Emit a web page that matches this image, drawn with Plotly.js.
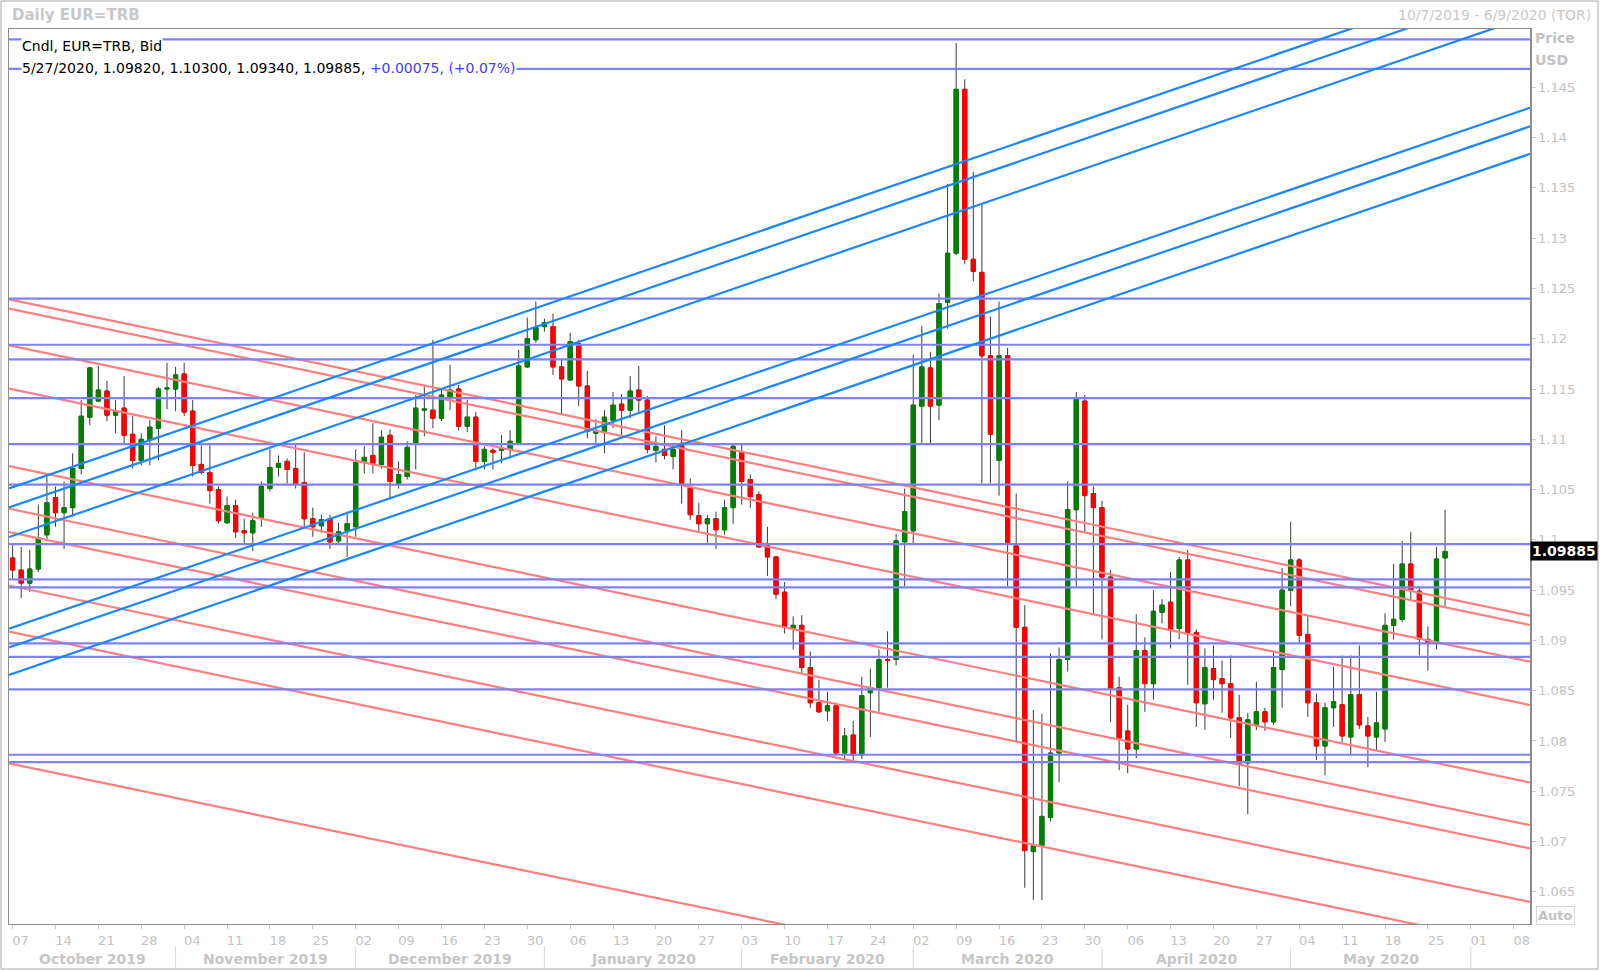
<!DOCTYPE html>
<html><head><meta charset="utf-8">
<script src="https://cdn.plot.ly/plotly-3.0.1.min.js"></script>
<style>html,body{margin:0;padding:0;background:#fff;}#chart{width:1600px;height:972px;}</style>
</head><body><div id="chart"></div>
<script>
// ---------------- DATA ----------------
const dates = [
"2019-10-07","2019-10-08","2019-10-09","2019-10-10","2019-10-11",
"2019-10-14","2019-10-15","2019-10-16","2019-10-17","2019-10-18",
"2019-10-21","2019-10-22","2019-10-23","2019-10-24","2019-10-25",
"2019-10-28","2019-10-29","2019-10-30","2019-10-31","2019-11-01",
"2019-11-04","2019-11-05","2019-11-06","2019-11-07","2019-11-08",
"2019-11-11","2019-11-12","2019-11-13","2019-11-14","2019-11-15",
"2019-11-18","2019-11-19","2019-11-20","2019-11-21","2019-11-22",
"2019-11-25","2019-11-26","2019-11-27","2019-11-28","2019-11-29",
"2019-12-02","2019-12-03","2019-12-04","2019-12-05","2019-12-06",
"2019-12-09","2019-12-10","2019-12-11","2019-12-12","2019-12-13",
"2019-12-16","2019-12-17","2019-12-18","2019-12-19","2019-12-20",
"2019-12-23","2019-12-24","2019-12-25","2019-12-26","2019-12-27",
"2019-12-30","2019-12-31","2020-01-01","2020-01-02","2020-01-03",
"2020-01-06","2020-01-07","2020-01-08","2020-01-09","2020-01-10",
"2020-01-13","2020-01-14","2020-01-15","2020-01-16","2020-01-17",
"2020-01-20","2020-01-21","2020-01-22","2020-01-23","2020-01-24",
"2020-01-27","2020-01-28","2020-01-29","2020-01-30","2020-01-31",
"2020-02-03","2020-02-04","2020-02-05","2020-02-06","2020-02-07",
"2020-02-10","2020-02-11","2020-02-12","2020-02-13","2020-02-14",
"2020-02-17","2020-02-18","2020-02-19","2020-02-20","2020-02-21",
"2020-02-24","2020-02-25","2020-02-26","2020-02-27","2020-02-28",
"2020-03-02","2020-03-03","2020-03-04","2020-03-05","2020-03-06",
"2020-03-09","2020-03-10","2020-03-11","2020-03-12","2020-03-13",
"2020-03-16","2020-03-17","2020-03-18","2020-03-19","2020-03-20",
"2020-03-23","2020-03-24","2020-03-25","2020-03-26","2020-03-27",
"2020-03-30","2020-03-31","2020-04-01","2020-04-02","2020-04-03",
"2020-04-06","2020-04-07","2020-04-08","2020-04-09","2020-04-10",
"2020-04-13","2020-04-14","2020-04-15","2020-04-16","2020-04-17",
"2020-04-20","2020-04-21","2020-04-22","2020-04-23","2020-04-24",
"2020-04-27","2020-04-28","2020-04-29","2020-04-30","2020-05-01",
"2020-05-04","2020-05-05","2020-05-06","2020-05-07","2020-05-08",
"2020-05-11","2020-05-12","2020-05-13","2020-05-14","2020-05-15",
"2020-05-18","2020-05-19","2020-05-20","2020-05-21","2020-05-22",
"2020-05-25","2020-05-26","2020-05-27"
];
const openP = [
1.0982,1.0970,1.0957,1.0971,1.1005,1.1042,1.1027,1.1032,1.1071,1.1122,
1.1138,1.1148,1.1124,1.1131,1.1105,1.1079,1.1100,1.1111,1.1150,1.1150,
1.1165,1.1128,1.1075,1.1067,1.1050,1.1017,1.1034,1.1009,1.1007,1.1022,
1.1051,1.1072,1.1078,1.1071,1.1057,1.1021,1.1014,1.1021,1.0999,1.1009,
1.1013,1.1078,1.1084,1.1075,1.1104,1.1056,1.1063,1.1095,1.1129,1.1129,
1.1121,1.1142,1.1150,1.1113,1.1122,1.1078,1.1089,1.1089,1.1090,1.1096,
1.1172,1.1199,1.1212,1.1212,1.1172,1.1159,1.1195,1.1153,1.1106,1.1107,
1.1119,1.1135,1.1129,1.1149,1.1139,1.1089,1.1090,1.1083,1.1096,1.1052,
1.1024,1.1016,1.1021,1.1010,1.1032,1.1087,1.1060,1.1045,1.0995,1.0983,
1.0948,1.0912,1.0915,1.0873,1.0838,1.0830,1.0835,1.0788,1.0806,1.0786,
1.0848,1.0853,1.0881,1.0881,1.0998,1.1009,1.1133,1.1171,1.1134,1.1236,
1.1285,1.1448,1.1279,1.1266,1.1183,1.1079,1.1183,1.0994,1.0913,1.0690,
1.0696,1.0724,1.0788,1.0881,1.1030,1.1138,1.1046,1.1032,1.0963,1.0853,
1.0810,1.0792,1.0890,1.0857,1.0928,1.0938,1.0912,1.0980,1.0908,1.0837,
1.0872,1.0862,1.0857,1.0823,1.0778,1.0816,1.0829,1.0819,1.0871,1.0950,
1.0980,1.0906,1.0838,1.0795,1.0833,1.0836,1.0804,1.0846,1.0815,1.0804,
1.0812,1.0915,1.0921,1.0976,1.0949,1.0901,1.0897,1.09820
];
const highP = [
1.0996,1.0993,1.0990,1.1035,1.1063,1.1053,1.1058,1.1086,1.1139,1.1172,
1.1173,1.1158,1.1139,1.1163,1.1123,1.1106,1.1119,1.1152,1.1176,1.1172,
1.1176,1.1139,1.1094,1.1094,1.1053,1.1043,1.1040,1.1021,1.1027,1.1058,
1.1090,1.1084,1.1081,1.1096,1.1087,1.1032,1.1025,1.1025,1.1017,1.1028,
1.1090,1.1093,1.1116,1.1109,1.1110,1.1078,1.1098,1.1144,1.1153,1.1199,
1.1151,1.1174,1.1154,1.1139,1.1127,1.1093,1.1091,1.1104,1.1109,1.1189,
1.1221,1.1237,1.1220,1.1225,1.1180,1.1206,1.1199,1.1168,1.1120,1.1129,
1.1147,1.1145,1.1163,1.1173,1.1143,1.1103,1.1114,1.1096,1.1109,1.1061,
1.1037,1.1025,1.1028,1.1040,1.1096,1.1096,1.1065,1.1048,1.1013,1.0984,
1.0958,1.0924,1.0925,1.0889,1.0861,1.0849,1.0838,1.0813,1.0820,1.0864,
1.0872,1.0891,1.0909,1.1006,1.1051,1.1184,1.1213,1.1187,1.1245,1.1354,
1.1494,1.1458,1.1366,1.1335,1.1222,1.1237,1.1191,1.1046,1.0935,1.0831,
1.0827,1.0887,1.0893,1.1058,1.1147,1.1144,1.1053,1.1039,1.0970,1.0864,
1.0836,1.0926,1.0903,1.0950,1.0941,1.0968,1.0983,1.0990,1.0911,1.0892,
1.0895,1.0880,1.0885,1.0846,1.0828,1.0859,1.0833,1.0888,1.0972,1.1018,
1.0982,1.0925,1.0847,1.0838,1.0874,1.0885,1.0885,1.0895,1.0824,1.0849,
1.0927,1.0976,1.0999,1.1008,1.0954,1.0914,1.0993,1.10300
];
const lowP = [
1.0960,1.0942,1.0948,1.0968,1.1000,1.1013,1.0991,1.1023,1.1065,1.1114,
1.1137,1.1118,1.1106,1.1095,1.1071,1.1074,1.1074,1.1079,1.1130,1.1128,
1.1123,1.1063,1.1065,1.1036,1.1016,1.1016,1.1002,1.0997,1.0989,1.1013,
1.1048,1.1063,1.1056,1.1051,1.1013,1.1003,1.1007,1.0991,1.0997,1.0983,
1.1003,1.1066,1.1066,1.1071,1.1040,1.1051,1.1060,1.1070,1.1103,1.1111,
1.1118,1.1129,1.1109,1.1107,1.1069,1.1070,1.1070,1.1076,1.1081,1.1095,
1.1171,1.1196,1.1207,1.1164,1.1124,1.1158,1.1133,1.1101,1.1095,1.1086,
1.1111,1.1104,1.1121,1.1127,1.1086,1.1077,1.1080,1.1070,1.1036,1.1020,
1.1009,1.0997,1.0991,1.1005,1.1016,1.1035,1.1032,1.0992,1.0964,1.0941,
1.0907,1.0891,1.0867,1.0833,1.0828,1.0820,1.0786,1.0781,1.0779,1.0782,
1.0804,1.0829,1.0853,1.0875,1.0954,1.0995,1.1095,1.1095,1.1119,1.1210,
1.1283,1.1274,1.1257,1.1056,1.1056,1.1044,1.0954,1.0799,1.0654,1.0642,
1.0642,1.0720,1.0759,1.0869,1.0953,1.1008,1.0925,1.0901,1.0819,1.0771,
1.0768,1.0783,1.0829,1.0841,1.0917,1.0892,1.0901,1.0856,1.0814,1.0811,
1.0841,1.0828,1.0803,1.0755,1.0727,1.0811,1.0810,1.0816,1.0833,1.0934,
1.0897,1.0824,1.0781,1.0766,1.0814,1.0799,1.0786,1.0812,1.0774,1.0790,
1.0799,1.0901,1.0918,1.0940,1.0885,1.0870,1.0891,1.09340
];
const closeP = [
1.0970,1.0957,1.0971,1.1002,1.1037,1.1027,1.1032,1.1071,1.1123,1.1171,
1.1149,1.1124,1.1128,1.1104,1.1079,1.1100,1.1112,1.1150,1.1151,1.1164,
1.1127,1.1074,1.1067,1.1049,1.1019,1.1034,1.1008,1.1007,1.1019,1.1053,
1.1072,1.1076,1.1070,1.1056,1.1021,1.1013,1.1020,1.0998,1.1008,1.1016,
1.1077,1.1082,1.1076,1.1102,1.1058,1.1065,1.1092,1.1131,1.1130,1.1121,
1.1144,1.1149,1.1113,1.1122,1.1078,1.1090,1.1087,1.1091,1.1098,1.1173,
1.1200,1.1211,1.1216,1.1172,1.1160,1.1197,1.1153,1.1108,1.1108,1.1122,
1.1134,1.1129,1.1148,1.1139,1.1090,1.1093,1.1084,1.1090,1.1056,1.1025,
1.1016,1.1021,1.1010,1.1032,1.1093,1.1058,1.1043,1.0993,1.0983,1.0946,
1.0914,1.0915,1.0873,1.0838,1.0829,1.0835,1.0788,1.0805,1.0786,1.0845,
1.0853,1.0881,1.0880,1.0999,1.1028,1.1134,1.1172,1.1133,1.1235,1.1285,
1.1448,1.1279,1.1267,1.1183,1.1105,1.1183,1.0997,1.0913,1.0691,1.0696,
1.0725,1.0788,1.0881,1.1030,1.1140,1.1044,1.1032,1.0963,1.0852,1.0803,
1.0792,1.0890,1.0857,1.0929,1.0935,1.0911,1.0980,1.0908,1.0838,1.0873,
1.0861,1.0857,1.0823,1.0778,1.0821,1.0829,1.0819,1.0873,1.0950,1.0980,
1.0905,1.0838,1.0795,1.0833,1.0839,1.0805,1.0846,1.0816,1.0805,1.0818,
1.0915,1.0921,1.0976,1.0950,1.0901,1.0898,1.09810,1.09885
];
const yTickLabels = ["1.065","1.07","1.075","1.08","1.085","1.09","1.095","1.1","1.105","1.11","1.115","1.12","1.125","1.13","1.135","1.14","1.145"];
const weekTicks = ["2019-10-07","2019-10-14","2019-10-21","2019-10-28","2019-11-04","2019-11-11","2019-11-18","2019-11-25",
"2019-12-02","2019-12-09","2019-12-16","2019-12-23","2019-12-30","2020-01-06","2020-01-13","2020-01-20","2020-01-27",
"2020-02-03","2020-02-10","2020-02-17","2020-02-24","2020-03-02","2020-03-09","2020-03-16","2020-03-23","2020-03-30",
"2020-04-06","2020-04-13","2020-04-20","2020-04-27","2020-05-04","2020-05-11","2020-05-18","2020-05-25","2020-06-01","2020-06-08"];
const monthNames = ["October 2019","November 2019","December 2019","January 2020","February 2020","March 2020","April 2020","May 2020"];
const monthStarts = ["2019-11-01","2019-12-02","2020-01-01","2020-02-03","2020-03-02","2020-04-01","2020-05-01","2020-06-01"];
// horizontal support / resistance levels
const hLevels = [1.14977,1.14683,1.12398,1.11940,1.11794,1.11410,1.10952,1.10550,1.09957,1.09607,1.09528,1.08971,1.08837,1.08513,1.07863,1.07789];
// trend lines: value on lineFrom date and on lineTo date
const lineFrom = "2019-10-07", lineTo = "2020-06-09";
const redStart = [1.12385,1.12292,1.11927,1.11496,1.10726,1.10302,1.10070,1.09539,1.09080,1.07770];
const redEnd   = [1.09262,1.09169,1.08804,1.08373,1.07603,1.07179,1.06947,1.06416,1.05957,1.04647];
const blueStart = [1.10523,1.10335,1.10040,1.09128,1.08942,1.08669];
const blueEnd   = [1.15666,1.15478,1.15183,1.14271,1.14085,1.13812];

// ---------------- helpers ----------------
function tradingIndex(s){
  const p = s.split("-").map(Number);
  const days = Math.round((Date.UTC(p[0],p[1]-1,p[2]) - Date.UTC(2019,9,7))/864e5);
  const w = Math.floor(days/7), r = days - w*7;
  return w*5 + Math.min(r,5);
}
const X = dates.map(tradingIndex);
const xRange = [-0.42, 176.9];
const yRange = [1.0618, 1.1508];
const FONT = "DejaVu Sans, Noto Sans, sans-serif";
const GRAY = "#c2c2c2";

const traces = [];
traces.push({type:"candlestick", x:X, open:openP, high:highP, low:lowP, close:closeP,
  increasing:{line:{color:"#3a3a3a",width:1}, fillcolor:"#008000"},
  decreasing:{line:{color:"#3a3a3a",width:1}, fillcolor:"#ff0000"},
  whiskerwidth:0, hoverinfo:"skip", showlegend:false});
traces.push({type:"candlestick", x:X, open:openP, close:closeP,
  high:openP.map((o,i)=>Math.max(o,closeP[i])), low:openP.map((o,i)=>Math.min(o,closeP[i])),
  increasing:{line:{color:"#008000",width:1}, fillcolor:"#008000"},
  decreasing:{line:{color:"#ff0000",width:1}, fillcolor:"#ff0000"},
  whiskerwidth:0, hoverinfo:"skip", showlegend:false});

const lx0 = tradingIndex(lineFrom), lx1 = tradingIndex(lineTo);
function lineAt(s,e,x){ return s + (e-s)*(x-lx0)/(lx1-lx0); }
redStart.forEach((s,i)=>{
  traces.push({type:"scatter", mode:"lines", x:xRange, y:xRange.map(x=>lineAt(s,redEnd[i],x)),
    line:{color:"#ff7f7f",width:2.2}, hoverinfo:"skip", showlegend:false});
});
hLevels.forEach(v=>{
  traces.push({type:"scatter", mode:"lines", x:xRange, y:[v,v],
    line:{color:"#8080ff",width:2.2}, hoverinfo:"skip", showlegend:false});
});
blueStart.forEach((s,i)=>{
  traces.push({type:"scatter", mode:"lines", x:xRange, y:xRange.map(x=>lineAt(s,blueEnd[i],x)),
    line:{color:"#1a86ff",width:2.2}, hoverinfo:"skip", showlegend:false});
});

// geometry helpers for paper coordinates
const L=9, R=1530, T=29, B=924;
const px = v => (v-L)/(R-L);
const py = v => (B-v)/(B-T);

const n = closeP.length;
const last = dates[n-1].split("-").map(Number);
const chg = closeP[n-1]-closeP[n-2];
const pct = chg/closeP[n-2]*100;
const sign = v => (v>=0?"+":"");
const hdr2 = `${last[1]}/${last[2]}/${last[0]}, ${openP[n-1].toFixed(5)}, ${highP[n-1].toFixed(5)}, ${lowP[n-1].toFixed(5)}, ${closeP[n-1].toFixed(5)}, ` +
  `<span style="color:#3c3cff">${sign(chg)}${chg.toFixed(5)}, (${sign(pct)}${pct.toFixed(2)}%)</span>`;

const annotations = [
  {text:"<b>Daily EUR=TRB</b>", xref:"paper", yref:"paper", x:px(10), y:py(15), xanchor:"left", yanchor:"middle", showarrow:false, font:{family:FONT,size:15,color:"#c8c8c8"}},
  {text:"10/7/2019 - 6/9/2020 (TOR)", xref:"paper", yref:"paper", x:px(1593), y:py(15), xanchor:"right", yanchor:"middle", showarrow:false, font:{family:FONT,size:14,color:"#c8c8c8"}},
  {text:"<b>Price</b>", xref:"paper", yref:"paper", x:px(1533), y:py(38), xanchor:"left", yanchor:"middle", showarrow:false, font:{family:FONT,size:14,color:GRAY}},
  {text:"<b>USD</b>", xref:"paper", yref:"paper", x:px(1533), y:py(60), xanchor:"left", yanchor:"middle", showarrow:false, font:{family:FONT,size:14,color:GRAY}},
  {text:"Cndl, EUR=TRB, Bid", xref:"paper", yref:"paper", x:px(21), y:py(46), xanchor:"left", yanchor:"middle", showarrow:false, bgcolor:"#ffffff", borderpad:0, font:{family:FONT,size:14,color:"#000"}},
  {text:hdr2, xref:"paper", yref:"paper", x:px(21), y:py(68), xanchor:"left", yanchor:"middle", showarrow:false, bgcolor:"#ffffff", borderpad:0, font:{family:FONT,size:14,color:"#000"}},
  {text:"<b>"+closeP[n-1].toFixed(5)+"</b>", xref:"paper", yref:"y", x:1.0, y:closeP[n-1], xanchor:"left", yanchor:"middle", showarrow:false, bgcolor:"#000000", borderpad:1, font:{family:FONT,size:14,color:"#ffffff"}},
  {text:"<b>Auto</b>", xref:"paper", yref:"paper", x:px(1536), y:py(915), xanchor:"left", yanchor:"middle", showarrow:false, bordercolor:"#d6d6d6", borderwidth:1, borderpad:1, font:{family:FONT,size:13,color:GRAY}}
];
const bounds = [xRange[0]].concat(monthStarts.map(tradingIndex));
monthNames.forEach((m,i)=>{
  annotations.push({text:"<b>"+m+"</b>", xref:"x", yref:"paper", x:(bounds[i]+bounds[i+1])/2, y:py(959), xanchor:"center", yanchor:"middle", showarrow:false, font:{family:FONT,size:14,color:"#c6c6c6"}});
});
const shapes = [
  {type:"rect", xref:"paper", yref:"paper", x0:px(1), x1:px(1598), y0:py(969), y1:py(1), line:{color:"#a8a8a8",width:1}, fillcolor:"rgba(0,0,0,0)", layer:"below"}
];
monthStarts.forEach(d=>{
  shapes.push({type:"line", xref:"x", yref:"paper", x0:tradingIndex(d), x1:tradingIndex(d), y0:py(947), y1:py(968), line:{color:"#d4d4d4",width:1}});
});

const layout = {
  width:1600, height:972,
  margin:{l:L, r:1600-R, t:T, b:972-B, pad:0},
  paper_bgcolor:"#ffffff", plot_bgcolor:"#ffffff",
  showlegend:false, dragmode:false,
  font:{family:FONT, color:GRAY},
  xaxis:{range:xRange, rangeslider:{visible:false}, showgrid:false, zeroline:false,
    tickmode:"array", tickvals:weekTicks.map(tradingIndex), ticktext:weekTicks.map(d=>d.slice(8)),
    ticks:"outside", ticklen:4, tickcolor:"#c8c8c8", ticklabelshift:8,
    tickfont:{family:FONT,size:13,color:GRAY},
    showline:true, mirror:true, linecolor:"#8c8c8c", linewidth:1, fixedrange:true},
  yaxis:{range:yRange, side:"right", showgrid:false, zeroline:false,
    tickmode:"array", tickvals:yTickLabels.map(Number), ticktext:yTickLabels,
    ticks:"outside", ticklen:4, tickcolor:"#c8c8c8",
    tickfont:{family:FONT,size:13,color:GRAY},
    showline:true, mirror:true, linecolor:"#8c8c8c", linewidth:1.5, fixedrange:true},
  annotations:annotations, shapes:shapes
};
Plotly.newPlot("chart", traces, layout, {staticPlot:true, displayModeBar:false});
</script>
</body></html>
